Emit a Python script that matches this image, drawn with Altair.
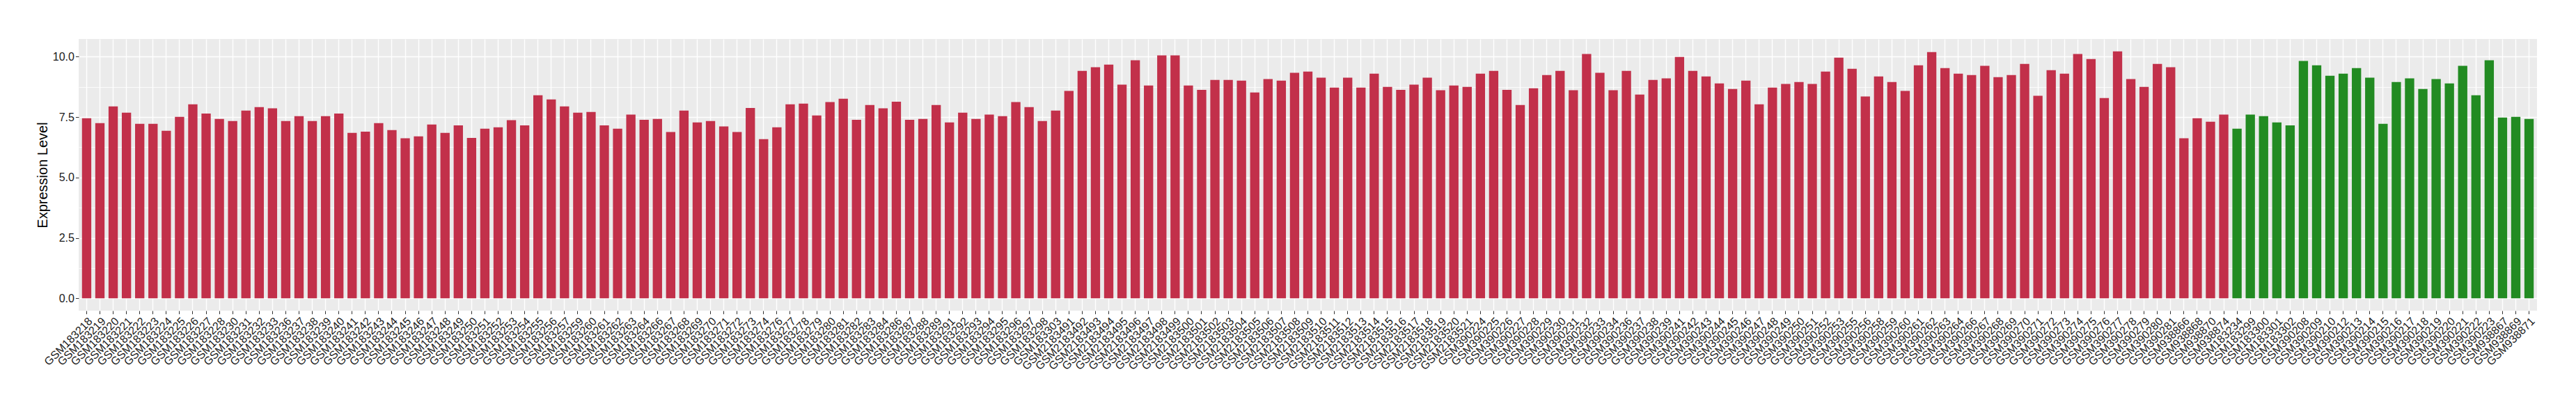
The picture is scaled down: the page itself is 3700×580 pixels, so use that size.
import altair as alt
import pandas as pd

red_samples = [
    "GSM183218", "GSM183219", "GSM183220", "GSM183221", "GSM183222", "GSM183223", "GSM183224",
    "GSM183225", "GSM183226", "GSM183227", "GSM183228", "GSM183230", "GSM183231", "GSM183232",
    "GSM183233", "GSM183236", "GSM183237", "GSM183238", "GSM183239", "GSM183240", "GSM183241",
    "GSM183242", "GSM183243", "GSM183244", "GSM183245", "GSM183246", "GSM183247", "GSM183248",
    "GSM183249", "GSM183250", "GSM183251", "GSM183252", "GSM183253", "GSM183254", "GSM183255",
    "GSM183256", "GSM183257", "GSM183259", "GSM183260", "GSM183261", "GSM183262", "GSM183263",
    "GSM183264", "GSM183266", "GSM183267", "GSM183268", "GSM183269", "GSM183270", "GSM183271",
    "GSM183272", "GSM183273", "GSM183274", "GSM183276", "GSM183277", "GSM183278", "GSM183279",
    "GSM183280", "GSM183281", "GSM183282", "GSM183283", "GSM183284", "GSM183286", "GSM183287",
    "GSM183288", "GSM183289", "GSM183291", "GSM183292", "GSM183293", "GSM183294", "GSM183295",
    "GSM183296", "GSM183297", "GSM183298", "GSM183303",
    "GSM2183491", "GSM2183492", "GSM2183493", "GSM2183494", "GSM2183495", "GSM2183496",
    "GSM2183497", "GSM2183498", "GSM2183499", "GSM2183500", "GSM2183501", "GSM2183502",
    "GSM2183503", "GSM2183504", "GSM2183505", "GSM2183506", "GSM2183507", "GSM2183508",
    "GSM2183509", "GSM2183510", "GSM2183511", "GSM2183512", "GSM2183513", "GSM2183514",
    "GSM2183515", "GSM2183516", "GSM2183517", "GSM2183518", "GSM2183519", "GSM2183520",
    "GSM2183521",
    "GSM390224", "GSM390225", "GSM390226", "GSM390227", "GSM390228", "GSM390229", "GSM390230",
    "GSM390231", "GSM390232", "GSM390233", "GSM390234", "GSM390236", "GSM390237", "GSM390238",
    "GSM390239", "GSM390241", "GSM390242", "GSM390243", "GSM390244", "GSM390245", "GSM390246",
    "GSM390247", "GSM390248", "GSM390249", "GSM390250", "GSM390251", "GSM390252", "GSM390253",
    "GSM390255", "GSM390256", "GSM390258", "GSM390259", "GSM390260", "GSM390261", "GSM390262",
    "GSM390263", "GSM390264", "GSM390266", "GSM390267", "GSM390268", "GSM390269", "GSM390270",
    "GSM390271", "GSM390272", "GSM390273", "GSM390274", "GSM390275", "GSM390276", "GSM390277",
    "GSM390278", "GSM390279", "GSM390280", "GSM390281",
    "GSM938866", "GSM938868", "GSM938870", "GSM938874",
]

red_values = [
    7.45, 7.25, 7.94, 7.68, 7.22, 7.22, 6.93, 7.51, 8.03, 7.65,
    7.42, 7.34, 7.77, 7.91, 7.86, 7.34, 7.54, 7.34, 7.54, 7.65,
    6.85, 6.90, 7.25, 6.96, 6.62, 6.70, 7.19, 6.85, 7.16, 6.64,
    7.02, 7.08, 7.37, 7.16, 8.40, 8.23, 7.94, 7.68, 7.71, 7.16,
    7.02, 7.60, 7.39, 7.42, 6.88, 7.77, 7.28, 7.34, 7.11, 6.88,
    7.88, 6.59, 7.08, 8.03, 8.06, 7.57, 8.12, 8.26, 7.39, 8.00,
    7.86, 8.14, 7.39, 7.42, 8.00, 7.28, 7.68, 7.42, 7.60, 7.54,
    8.12, 7.91, 7.34, 7.77,
    8.58, 9.41, 9.56, 9.67, 8.84, 9.85, 8.81, 10.05, 10.05, 8.81,
    8.63, 9.04, 9.04, 9.01, 8.52, 9.07, 9.01, 9.33, 9.38, 9.13,
    8.72, 9.13, 8.72, 9.30, 8.75, 8.63, 8.84, 9.13, 8.61, 8.81,
    8.75,
    9.30, 9.41, 8.63, 8.00, 8.69, 9.24, 9.41, 8.61, 10.11, 9.33,
    8.61, 9.41, 8.43, 9.04, 9.10, 9.99, 9.41, 9.18, 8.89, 8.66,
    9.01, 8.03, 8.72, 8.87, 8.95, 8.87, 9.38, 9.96, 9.50, 8.35,
    9.18, 8.95, 8.58, 9.64, 10.19, 9.53, 9.30, 9.24, 9.62, 9.15,
    9.24, 9.70, 8.38, 9.44, 9.30, 10.11, 9.90, 8.29, 10.22, 9.07,
    8.75, 9.70, 9.56,
    6.62, 7.45, 7.31, 7.60,
]

green_samples = [
    "GSM183234", "GSM183299", "GSM183300", "GSM183301", "GSM183302",
    "GSM390208", "GSM390209", "GSM390210", "GSM390212", "GSM390213", "GSM390214",
    "GSM390215", "GSM390216", "GSM390217", "GSM390218", "GSM390219", "GSM390220",
    "GSM390221", "GSM390222", "GSM390223",
    "GSM938867", "GSM938869", "GSM938871",
]

green_values = [
    7.02, 7.60, 7.54, 7.28, 7.16,
    9.82, 9.64, 9.21, 9.30, 9.53, 9.13,
    7.22, 8.95, 9.10, 8.66, 9.07, 8.89,
    9.62, 8.40, 9.85,
    7.48, 7.51, 7.42,
]

groups = ["red", "green"]
colors = ["#C2304A", "#228B22"]
y_ticks = [0, 1.25, 2.5, 3.75, 5, 6.25, 7.5, 8.75, 10]

df = pd.DataFrame({
    "sample": red_samples + green_samples,
    "value": red_values + green_values,
    "group": [groups[0]] * len(red_samples) + [groups[1]] * len(green_samples),
})
order = list(df["sample"])

major = "datum.value % 2.5 == 0"

chart = alt.Chart(df).mark_bar().encode(
    x=alt.X(
        "sample:N",
        sort=order,
        title=None,
        scale=alt.Scale(paddingInner=0.3, paddingOuter=0.25),
        axis=alt.Axis(
            labelAngle=-45,
            labelAlign="right",
            labelBaseline="top",
            labelFont="Liberation Sans",
            labelFontSize=16,
            labelColor="#1A1A1A",
            labelOverlap=False,
            labelPadding=2,
            labelLimit=400,
            tickSize=4.6,
            tickColor="#333333",
            tickWidth=1,
            domain=False,
            grid=True,
            gridColor="#FFFFFF",
            gridWidth=1.4,
        ),
    ),
    y=alt.Y(
        "value:Q",
        title="Expression Level",
        scale=alt.Scale(domain=[-0.511, 10.731], nice=False, zero=False),
        axis=alt.Axis(
            values=y_ticks,
            labelExpr="datum.value % 2.5 == 0 ? format(datum.value, '.1f') : ''",
            labelFont="Liberation Sans",
            labelFontSize=16,
            labelColor="#1A1A1A",
            labelPadding=2,
            tickSize=4.6,
            tickColor="#333333",
            tickWidth=1,
            tickOpacity={"condition": {"test": major, "value": 1}, "value": 0},
            domain=False,
            grid=True,
            gridColor="#FFFFFF",
            gridWidth={"condition": {"test": major, "value": 1.6}, "value": 0.8},
            titleFont="Liberation Sans",
            titleFontSize=20,
            titleFontWeight="normal",
            titleColor="#000000",
            titlePadding=4,
        ),
    ),
    color=alt.Color(
        "group:N",
        scale=alt.Scale(domain=groups, range=colors),
        legend=None,
    ),
).properties(
    width=3531,
    height=390,
    autosize=alt.AutoSizeParams(type="none"),
    padding={"left": 105, "top": 48, "right": 40, "bottom": 120},
).configure_view(
    fill="#EBEBEB",
    stroke=None,
)

chart.save("out.html", embed_options={"renderer": "svg", "actions": False})
